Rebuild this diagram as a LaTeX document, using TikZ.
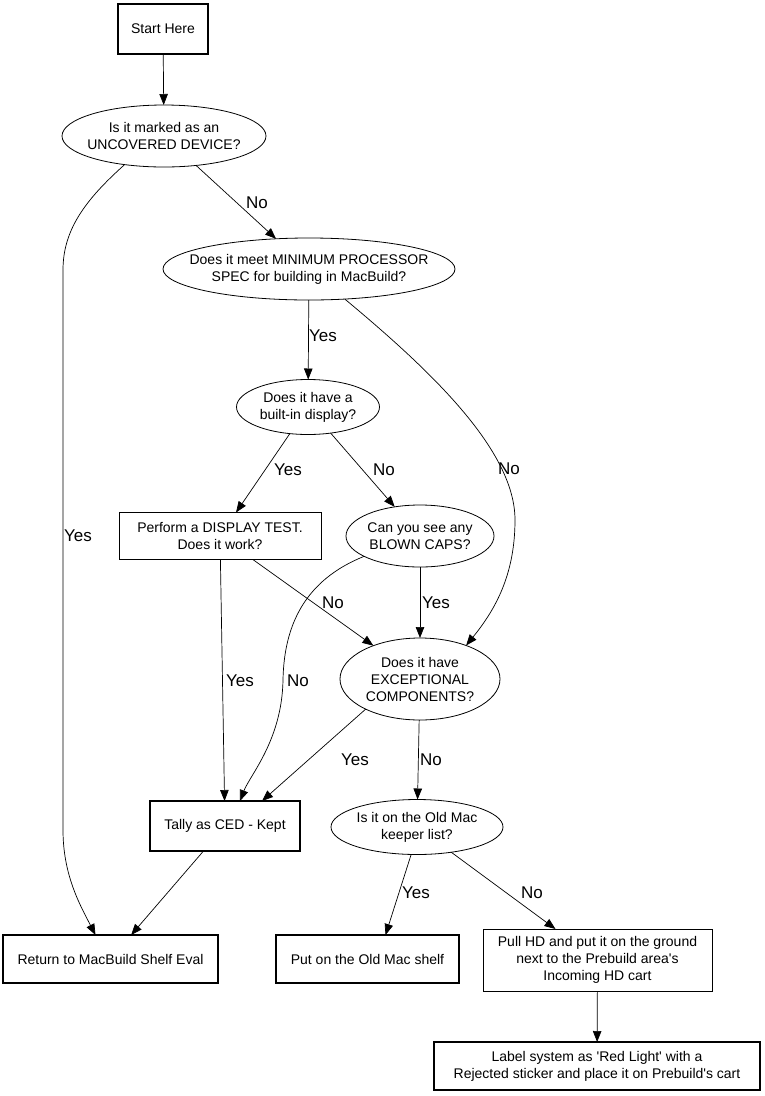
\documentclass[tikz,border=0pt]{standalone}
\usepackage{fontspec}
\setmainfont{Liberation Sans}
\usetikzlibrary{shapes.geometric,arrows.meta,calc}
\begin{document}
\begin{tikzpicture}[x=1pt,y=-1pt,
 every node/.style={font=\fontsize{14}{17}\selectfont, inner sep=0pt, outer sep=0pt, align=center},
 bx/.style={draw, rectangle, line width=0.8pt},
 tbx/.style={draw, rectangle, line width=2.6pt},
 el/.style={draw, ellipse, line width=0.8pt},
 lbl/.style={font=\fontsize{17}{20}\selectfont},
 arr/.style={-{Triangle[length=11pt,width=8.5pt]}, line width=0.7pt}]
\useasboundingbox (0,0) rectangle (765,1096);

\node[tbx, minimum width=90, minimum height=50] (start) at (163,29) {Start Here};
\node[el, minimum width=204, minimum height=62] (unc) at (164,136) {};
\node (uncT) at (unc) {Is it marked as an\\UNCOVERED DEVICE?};
\node[el, minimum width=292, minimum height=62] (minp) at (309,269) {};
\node (minpT) at (minp) {Does it meet MINIMUM PROCESSOR\\SPEC for building in MacBuild?};
\node[el, minimum width=143, minimum height=55] (disp) at (308,407) {};
\node (dispT) at (disp) {Does it have a\\built-in display?};
\node[bx, minimum width=202, minimum height=47] (dtest) at (220,536) {Perform a DISPLAY TEST.\\Does it work?};
\node[el, minimum width=148, minimum height=62] (blown) at (420,536) {};
\node (blownT) at (blown) {Can you see any\\BLOWN CAPS?};
\node[el, minimum width=160, minimum height=82] (exc) at (420,679) {};
\node (excT) at (exc) {Does it have\\EXCEPTIONAL\\COMPONENTS?};
\node[tbx, minimum width=150, minimum height=50] (tally) at (225,826) {Tally as CED - Kept};
\node[el, minimum width=172, minimum height=55] (oldm) at (417,827) {};
\node (oldmT) at (oldm) {Is it on the Old Mac\\keeper list?};
\node[tbx, minimum width=215, minimum height=48] (ret) at (110.5,959) {Return to MacBuild Shelf Eval};
\node[tbx, minimum width=183, minimum height=48] (shelf) at (367.5,959) {Put on the Old Mac shelf};
\node[bx, minimum width=229, minimum height=62] (pull) at (597.5,960) {Pull HD and put it on the ground\\next to the Prebuild area\textquotesingle s\\Incoming HD cart};
\node[tbx, minimum width=326, minimum height=48] (lab) at (597,1066) {Label system as \textquotesingle Red Light\textquotesingle{} with a\\Rejected sticker and place it on Prebuild\textquotesingle s cart};

\draw[arr] (start) -- (unc);
\draw[arr] (unc) -- (minp);
\draw[arr] (unc.216) .. controls (85,200) and (63,230) .. (63,270) -- (63,830) .. controls (63,875) and (80,905) .. ($(ret.north)+(-15,0)$);
\draw[arr] (minp) -- (disp);
\draw[arr] (minp.320) .. controls (430,370) and (515,450) .. (515,520) .. controls (515,575) and (495,610) .. (exc.36);
\draw[arr] (disp) -- (dtest);
\draw[arr] (disp) -- (blown);
\draw[arr] (dtest) -- (exc);
\draw[arr] (dtest) -- (tally);
\draw[arr] (blown) -- (exc);
\draw[arr] (blown.200) .. controls (305,580) and (284,625) .. (283,680) .. controls (282,740) and (250,775) .. ($(tally.north)+(15,0)$);
\draw[arr] (exc.209) -- ($(tally.north)+(37,0)$);
\draw[arr] (exc) -- (oldm);
\draw[arr] (tally) -- (ret);
\draw[arr] (oldm.258) -- ($(shelf.north)+(18,0)$);
\draw[arr] (oldm) -- (pull);
\draw[arr] (pull) -- (lab);

\node[lbl] (l1) at (257,203) {No};
\node[lbl] (l2) at (78,536) {Yes};
\node[lbl] (l3) at (323,336) {Yes};
\node[lbl] (l4) at (509,469) {No};
\node[lbl] (l5) at (288,470) {Yes};
\node[lbl] (l6) at (384,470) {No};
\node[lbl] (l7) at (333,603) {No};
\node[lbl] (l8) at (436,603) {Yes};
\node[lbl] (l9) at (240,681) {Yes};
\node[lbl] (l10) at (298,681) {No};
\node[lbl] (l11) at (355,760) {Yes};
\node[lbl] (l12) at (431,760) {No};
\node[lbl] (l13) at (416,893) {Yes};
\node[lbl] (l14) at (532,893) {No};
\end{tikzpicture}
\end{document}
